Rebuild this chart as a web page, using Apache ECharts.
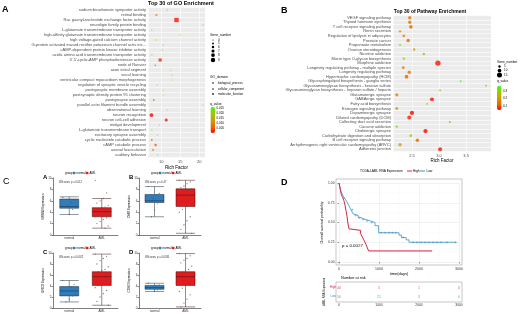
<!DOCTYPE html>
<html>
<head>
<meta charset="utf-8">
<script src="https://cdn.jsdelivr.net/npm/echarts@6.0.0/dist/echarts.min.js"></script>
<style>
  html, body { margin: 0; padding: 0; background: #fff; }
  #main { width: 520px; height: 314px; }
</style>
</head>
<body>
<div id="main"></div>
<script>
// ---- A: GO enrichment ----
const goTerms = ['sodium:bicarbonate symporter activity', 'retinal binding', 'Rac guanyl-nucleotide exchange factor activity',
  'neuroligin family protein binding', 'L-glutamate transmembrane transporter activity',
  'high-affinity glutamate transmembrane transporter activity', 'high voltage-gated calcium channel activity',
  'G-protein activated inward rectifier potassium channel activ etc...', 'cAMP-dependent protein kinase inhibitor activity',
  'acidic amino acid transmembrane transporter activity', "3',5'-cyclic-AMP phosphodiesterase activity", 'node of Ranvier',
  'axon initial segment', 'vocal learning', 'ventricular compact myocardium morphogenesis',
  'regulation of synaptic vesicle recycling', 'postsynaptic membrane assembly', 'postsynaptic density protein 95 clustering',
  'postsynapse assembly', 'parallel actin filament bundle assembly', 'observational learning', 'neuron recognition',
  'neuron cell-cell adhesion', 'midgut development', 'L-glutamate transmembrane transport', 'excitatory synapse assembly',
  'cyclic nucleotide catabolic process', 'cAMP catabolic process', 'axonal fasciculation', 'auditory behavior'];
const goRich = [11.6, 8.7, 14.0, 21.0, 7.5, 15.0, 8.7, 10.5, 10.2, 7.5, 9.7, 8.4, 12.5, 12.8, 12.8,
  8.9, 10.5, 10.5, 8.0, 21.0, 11.6, 7.4, 11.3, 9.5, 7.5, 9.0, 7.5, 8.5, 7.8, 9.0];
const goGenes = [4, 5, 9, 4, 4, 4, 4, 4, 4, 4, 7, 5, 4, 4, 4, 4, 4, 4, 5, 4, 4, 8, 7, 4, 4, 4, 5, 6, 5, 4];
const goQ = [0.022, 0.012, 0.004, 0.024, 0.023, 0.022, 0.022, 0.021, 0.022, 0.023, 0.005, 0.011, 0.021, 0.022, 0.022,
  0.021, 0.022, 0.021, 0.010, 0.024, 0.022, 0.003, 0.004, 0.022, 0.023, 0.021, 0.009, 0.008, 0.010, 0.022];
const goDomain = ['MF', 'MF', 'MF', 'MF', 'MF', 'MF', 'MF', 'MF', 'MF', 'MF', 'MF', 'CC', 'CC',
  'BP', 'BP', 'BP', 'BP', 'BP', 'BP', 'BP', 'BP', 'BP', 'BP', 'BP', 'BP', 'BP', 'BP', 'BP', 'BP', 'BP'];
const goSizeLegend = [4, 5, 6, 7, 8, 9];
const goQTicks = [0.025, 0.020, 0.015, 0.010, 0.005];

// ---- B: pathway enrichment ----
const pwTerms = ['VEGF signaling pathway', 'Thyroid hormone synthesis', 'T cell receptor signaling pathway', 'Renin secretion',
  'Regulation of lipolysis in adipocytes', 'Prostate cancer', 'Propanoate metabolism', 'Ovarian steroidogenesis',
  'Nicotine addiction', 'Mucin type O-glycan biosynthesis', 'Morphine addiction', 'Longevity regulating pathway - multiple species',
  'Longevity regulating pathway', 'Hypertrophic cardiomyopathy (HCM)', 'Glycosphingolipid biosynthesis - ganglio series',
  'Glycosaminoglycan biosynthesis - keratan sulfate', 'Glycosaminoglycan biosynthesis - heparan sulfate / heparin',
  'Glutamatergic synapse', 'GABAergic synapse', 'Fatty acid biosynthesis', 'Estrogen signaling pathway', 'Dopaminergic synapse',
  'Dilated cardiomyopathy (DCM)', 'Collecting duct acid secretion', 'Cocaine addiction', 'Cholinergic synapse',
  'Carbohydrate digestion and absorption', 'B cell receptor signaling pathway',
  'Arrhythmogenic right ventricular cardiomyopathy (ARVC)', 'Adherens junction'];
const pwRich = [2.46, 2.46, 2.48, 2.28, 2.35, 2.43, 2.28, 2.54, 2.72, 2.35, 2.98, 2.34, 2.45, 2.40, 3.40,
  3.87, 3.02, 2.22, 2.87, 2.78, 2.22, 2.50, 2.45, 3.20, 2.22, 2.75, 2.48, 2.60, 2.28, 3.02];
const pwGenes = [9, 9, 10, 5, 6, 9, 4, 5, 5, 5, 16, 7, 9, 10, 3, 3, 4, 8, 11, 3, 7, 12, 11, 4, 5, 12, 6, 9, 8, 11];
const pwQ = [0.15, 0.15, 0.13, 0.20, 0.18, 0.12, 0.32, 0.20, 0.27, 0.30, 0.06, 0.17, 0.15, 0.12, 0.35,
  0.33, 0.30, 0.17, 0.06, 0.30, 0.22, 0.05, 0.07, 0.28, 0.32, 0.05, 0.28, 0.12, 0.20, 0.06];
const pwSizeLegend = [5, 10, 15];
const pwQTicks = [0.3, 0.2, 0.1];

// ---- C: expression boxplots [min, Q1, median, Q3, max] ----
const groups = ['normal', 'AML'];
const boxGenes = ['NRXN3 Expression', 'DMD Expression', 'GRID2 Expression', 'CDH2 Expression'];
const boxPvals = ['Wilcoxon, p = 0.012', 'Wilcoxon, p = 0.47', 'Wilcoxon, p = 0.0021', 'Wilcoxon, p = 0.0035'];
const boxNormal = [[3.6, 4.7, 5.0, 6.3, 6.7], [3.2, 5.7, 6.0, 7.1, 8.5], [1.1, 2.2, 3.1, 3.9, 5.0], [3.0, 3.4, 3.7, 4.1, 4.5]];
const boxAML = [[1.2, 3.2, 4.1, 4.8, 6.4], [0.3, 5.0, 7.0, 8.1, 9.6], [0.5, 4.1, 5.7, 6.6, 9.8], [0.2, 4.1, 5.7, 6.6, 9.9]];
const ptsNormal = [
  [6.6, 6.2, 5.8, 5.3, 5.0, 4.8, 4.5, 3.6],
  [8.5, 7.3, 7.0, 6.4, 6.0, 5.8, 5.6, 4.4, 3.2],
  [5.0, 4.3, 3.8, 3.3, 3.0, 2.6, 2.2, 1.6, 1.1],
  [4.5, 4.2, 4.0, 3.8, 3.7, 3.5, 3.3, 3.0]];
const ptsAML = [
  [9.6, 7.4, 6.4, 6.0, 5.6, 5.2, 4.9, 4.8, 4.6, 4.5, 4.3, 4.2, 4.1, 4.0, 3.9, 3.7, 3.5, 3.3, 3.2, 3.0, 2.7, 2.4, 2.0, 1.6, 1.2],
  [9.6, 9.3, 9.0, 8.6, 8.3, 8.1, 7.8, 7.5, 7.2, 7.0, 6.8, 6.5, 6.2, 5.8, 5.5, 5.1, 5.0, 4.5, 4.0, 3.2, 2.5, 1.8, 1.0, 0.3],
  [9.8, 9.4, 9.0, 8.6, 8.0, 7.5, 7.0, 6.8, 6.6, 6.3, 6.0, 5.8, 5.6, 5.3, 5.0, 4.7, 4.4, 4.1, 3.7, 3.2, 2.6, 2.0, 1.2, 0.5],
  [9.9, 9.5, 9.0, 8.7, 8.2, 7.6, 7.0, 6.8, 6.6, 6.2, 5.9, 5.7, 5.5, 5.2, 4.8, 4.5, 4.1, 3.6, 3.0, 2.4, 1.6, 0.9, 0.2]];

// ---- D: Kaplan-Meier ----
const highT = [0, 20, 40, 60, 90, 120, 150, 175, 200, 215, 230, 250, 280, 540, 580, 620, 660, 700, 740, 2330];
const highS = [1.0, 0.95, 0.90, 0.85, 0.82, 0.78, 0.72, 0.65, 0.58, 0.52, 0.47, 0.42, 0.40, 0.36, 0.32, 0.28, 0.24, 0.19, 0.14, 0.14];
const lowT = [0, 30, 60, 100, 150, 200, 250, 300, 350, 400, 480, 560, 650, 780, 900, 990, 1500, 1560, 1680, 1750, 2920];
const lowS = [1.0, 0.93, 0.88, 0.84, 0.80, 0.76, 0.71, 0.66, 0.61, 0.59, 0.56, 0.54, 0.52, 0.50, 0.46, 0.37, 0.34, 0.31, 0.28, 0.25, 0.25];
const lowCensT = [120, 330, 420, 520, 600, 700, 820, 1050, 1150, 1250, 1330, 1420, 1600, 1850, 1950, 2050, 2150, 2250, 2350, 2450, 2550, 2700, 2920];
const lowCensS = [0.80, 0.66, 0.59, 0.56, 0.54, 0.52, 0.50, 0.37, 0.37, 0.37, 0.37, 0.37, 0.31, 0.25, 0.25, 0.25, 0.25, 0.25, 0.25, 0.25, 0.25, 0.25, 0.25];
const riskT = [0, 1000, 2000, 3000];
const riskHigh = [40, 5, 1, 0];
const riskLow = [56, 21, 3, 0];

const FONT = '"Liberation Sans", Arial, sans-serif';
const RED = '#E41A1C', BLUE = '#2F7DBD';
const goColors = ['#FF0000', '#F25C00', '#DD8A00', '#BDB000', '#8DD400', '#33FF00'];
const shapeOf = { BP: 'circle', CC: 'triangle', MF: 'rect' };
const goSize = g => 0.5 + (g - 3) * 0.65;
const pwSize = g => 1 + g * 0.27;

function T(x, y, text, size, o = {}) {
  return {
    type: 'text', x, y, rotation: o.rot || 0, silent: true,
    style: { text, fontSize: size, fontFamily: FONT, fontWeight: o.bold ? 'bold' : 'normal',
      fill: o.color || '#000', align: o.align || 'left', verticalAlign: 'middle' }
  };
}

const grids = [], xAxes = [], yAxes = [], series = [], graphics = [];

// A
grids.push({ left: 148, top: 7.5, width: 57, height: 150, show: true, backgroundColor: '#EBEBEB', borderWidth: 0 });
xAxes.push({ type: 'value', gridIndex: 0, min: 6.5, max: 21.5, splitNumber: 3,
  axisLine: { show: false }, axisTick: { length: 1.5, lineStyle: { color: '#333', width: 0.5 } },
  axisLabel: { fontSize: 4, margin: 2, color: '#4D4D4D', showMinLabel: false, showMaxLabel: false },
  splitLine: { lineStyle: { color: '#fff', width: 0.6 } },
  name: 'Rich Factor', nameLocation: 'middle', nameGap: 8, nameTextStyle: { fontSize: 4.5, color: '#000', fontFamily: FONT } });
yAxes.push({ type: 'category', gridIndex: 0, data: goTerms, inverse: true,
  axisLine: { show: false }, axisTick: { length: 1.5, alignWithLabel: true, lineStyle: { color: '#333', width: 0.5 } },
  axisLabel: { fontSize: 4, margin: 2, color: '#4D4D4D', interval: 0, fontFamily: FONT },
  splitLine: { show: true, lineStyle: { color: '#fff', width: 0.6 } } });
series.push({ type: 'scatter', xAxisIndex: 0, yAxisIndex: 0,
  data: goTerms.map((t, i) => [goRich[i], t, goQ[i], goGenes[i], goDomain[i]]),
  symbolSize: v => goSize(v[3]), symbol: v => shapeOf[v[4]] });

// B
grids.push({ left: 393, top: 15.5, width: 98, height: 136, show: true, backgroundColor: '#EBEBEB', borderWidth: 0 });
xAxes.push({ type: 'value', gridIndex: 1, min: 2.15, max: 3.96, splitNumber: 4,
  axisLine: { show: false }, axisTick: { length: 1.5, lineStyle: { color: '#333', width: 0.5 } },
  axisLabel: { fontSize: 4, margin: 2, color: '#4D4D4D', showMinLabel: false, showMaxLabel: false, formatter: v => v.toFixed(1) },
  splitLine: { lineStyle: { color: '#fff', width: 0.6 } },
  name: 'Rich Factor', nameLocation: 'middle', nameGap: 7, nameTextStyle: { fontSize: 4.5, color: '#000', fontFamily: FONT } });
yAxes.push({ type: 'category', gridIndex: 1, data: pwTerms, inverse: true,
  axisLine: { show: false }, axisTick: { length: 1.5, alignWithLabel: true, lineStyle: { color: '#333', width: 0.5 } },
  axisLabel: { fontSize: 4, margin: 2, color: '#4D4D4D', interval: 0, fontFamily: FONT },
  splitLine: { show: true, lineStyle: { color: '#fff', width: 0.6 } } });
series.push({ type: 'scatter', xAxisIndex: 1, yAxisIndex: 1,
  data: pwTerms.map((t, i) => [pwRich[i], t, pwQ[i], pwGenes[i]]),
  symbolSize: v => pwSize(v[3]) });

// C boxplots
const boxPanels = [
  { left: 53, top: 178, w: 65, h: 57, lx: 43, ly: 177, letter: 'A' },
  { left: 139, top: 178, w: 62, h: 57, lx: 129, ly: 177, letter: 'B' },
  { left: 53, top: 253, w: 65, h: 55, lx: 43, ly: 252, letter: 'C' },
  { left: 139, top: 253, w: 62, h: 55, lx: 129, ly: 252, letter: 'D' }];
boxPanels.forEach((p, k) => {
  const g = grids.length;
  grids.push({ left: p.left, top: p.top, width: p.w, height: p.h });
  const xc = xAxes.length;
  xAxes.push({ type: 'category', gridIndex: g, data: groups,
    axisLine: { lineStyle: { color: '#000', width: 0.5 } }, axisTick: { length: 1.5, alignWithLabel: true, lineStyle: { width: 0.5 } },
    axisLabel: { fontSize: 3.2, margin: 2, color: '#333', fontFamily: FONT } });
  xAxes.push({ type: 'value', gridIndex: g, min: 0.5, max: 2.5, show: false });
  const y = yAxes.length;
  yAxes.push({ type: 'value', gridIndex: g, min: 0, max: 10, interval: 2,
    axisLine: { show: true, lineStyle: { color: '#000', width: 0.5 } }, axisTick: { show: true, length: 1.5, lineStyle: { width: 0.5 } },
    axisLabel: { fontSize: 3, margin: 1.5, color: '#333' }, splitLine: { show: false },
    name: boxGenes[k], nameLocation: 'middle', nameGap: 7, nameRotate: 90, nameTextStyle: { fontSize: 3, color: '#000', fontFamily: FONT } });
  series.push({ type: 'boxplot', xAxisIndex: xc, yAxisIndex: y, boxWidth: [19, 19],
    data: [
      { value: boxNormal[k], itemStyle: { color: BLUE, borderColor: '#1D2D3D', borderWidth: 0.5 } },
      { value: boxAML[k], itemStyle: { color: RED, borderColor: '#3A1010', borderWidth: 0.5 } }] });
  const jit = (vals, c) => vals.map((v, i) => [c + (((i * 7) % 9) - 4) * 0.05, v]);
  series.push({ type: 'scatter', xAxisIndex: xc + 1, yAxisIndex: y, symbolSize: 1.3,
    itemStyle: { color: '#555', opacity: 0.75 }, data: jit(ptsNormal[k], 1).concat(jit(ptsAML[k], 2)), z: 5 });
  graphics.push(T(p.lx, p.ly, p.letter, 6, { bold: true }));
  const gx = p.left + 12, gy = p.top - 5;
  graphics.push(T(gx, gy, 'group', 3));
  graphics.push({ type: 'rect', shape: { x: gx + 8, y: gy - 1.2, width: 2.4, height: 2.4 }, style: { fill: BLUE }, silent: true });
  graphics.push(T(gx + 11.5, gy, 'normal', 3));
  graphics.push({ type: 'rect', shape: { x: gx + 21, y: gy - 1.2, width: 2.4, height: 2.4 }, style: { fill: RED }, silent: true });
  graphics.push(T(gx + 24.5, gy, 'AML', 3));
  graphics.push(T(p.left + 6, p.top + 4, boxPvals[k], 2.6, { color: '#333' }));
});

// D survival
const gS = grids.length;
grids.push({ left: 339, top: 183, width: 120, height: 79 });
const xS = xAxes.length;
xAxes.push({ type: 'value', gridIndex: gS, min: 0, max: 3000, interval: 1000,
  axisLine: { show: false }, axisTick: { length: 1.5, lineStyle: { color: '#333', width: 0.5 } },
  axisLabel: { fontSize: 3.5, margin: 5, color: '#333', formatter: v => String(v) },
  splitLine: { lineStyle: { color: '#E5E5E5', width: 0.5 } },
  minorTick: { show: false, splitNumber: 2 }, minorSplitLine: { show: true, lineStyle: { color: '#F2F2F2', width: 0.4 } },
  name: 'time(days)', nameLocation: 'middle', nameGap: 10, nameTextStyle: { fontSize: 4, color: '#000', fontFamily: FONT } });
const yS = yAxes.length;
yAxes.push({ type: 'value', gridIndex: gS, min: 0, max: 1, interval: 0.25,
  axisLine: { show: false }, axisTick: { show: true, length: 1.5, lineStyle: { color: '#333', width: 0.5 } },
  axisLabel: { fontSize: 3.3, margin: 4.5, color: '#333', formatter: v => v.toFixed(2) },
  splitLine: { lineStyle: { color: '#E5E5E5', width: 0.5 } },
  minorTick: { show: false, splitNumber: 2 }, minorSplitLine: { show: true, lineStyle: { color: '#F2F2F2', width: 0.4 } },
  name: 'Overall survival probability', nameLocation: 'middle', nameGap: 14, nameRotate: 90,
  nameTextStyle: { fontSize: 3.6, color: '#000', fontFamily: FONT } });
series.push({ type: 'line', name: 'High', step: 'end', xAxisIndex: xS, yAxisIndex: yS, showSymbol: false, symbol: 'none',
  data: highT.map((t, i) => [t, highS[i]]), lineStyle: { color: '#D62246', width: 1 }, z: 4 });
series.push({ type: 'line', name: 'Low', step: 'end', xAxisIndex: xS, yAxisIndex: yS, showSymbol: false, symbol: 'none',
  data: lowT.map((t, i) => [t, lowS[i]]), lineStyle: { color: '#3A94C4', width: 0.8 }, z: 3 });
series.push({ type: 'scatter', xAxisIndex: xS, yAxisIndex: yS, symbolSize: 2.6,
  symbol: 'path://M-0.2,-1H0.2V-0.2H1V0.2H0.2V1H-0.2V0.2H-1V-0.2H-0.2Z',
  itemStyle: { color: '#3A94C4' }, data: lowCensT.map((t, i) => [t, lowCensS[i]]), z: 4 });

// risk table
const gR = grids.length;
grids.push({ left: 339, top: 283, width: 120, height: 18 });
const xR = xAxes.length;
xAxes.push({ type: 'value', gridIndex: gR, min: 0, max: 3000, interval: 1000,
  axisLine: { show: false }, axisTick: { length: 1.5, lineStyle: { color: '#333', width: 0.5 } },
  axisLabel: { fontSize: 3.3, margin: 3, color: '#333', formatter: v => String(v) }, splitLine: { show: false } });
const yR = yAxes.length;
yAxes.push({ type: 'category', gridIndex: gR, data: ['High', 'Low'], inverse: true,
  axisLine: { show: false }, axisTick: { length: 1.5, alignWithLabel: true, lineStyle: { color: '#333', width: 0.5 } },
  axisLabel: { fontSize: 3, margin: 3, formatter: v => v === 'High' ? '{h|' + v + '}' : '{l|' + v + '}',
    rich: { h: { fontSize: 3, color: '#D62246' }, l: { fontSize: 3, color: '#3A94C4' } } },
  name: 'LAML RNA Expression', nameLocation: 'middle', nameGap: 12, nameRotate: 90,
  nameTextStyle: { fontSize: 2.8, color: '#000', fontFamily: FONT } });
series.push({ type: 'scatter', xAxisIndex: xR, yAxisIndex: yR, symbolSize: 0,
  data: riskT.map((t, i) => [t, 'High', riskHigh[i]]),
  label: { show: true, position: 'inside', formatter: p => p.value[2], fontSize: 3.6, color: '#D62246' } });
series.push({ type: 'scatter', xAxisIndex: xR, yAxisIndex: yR, symbolSize: 0,
  data: riskT.map((t, i) => [t, 'Low', riskLow[i]]),
  label: { show: true, position: 'inside', formatter: p => p.value[2], fontSize: 3.6, color: '#3A94C4' } });

// titles, letters, legends
graphics.push(T(2, 10, 'A', 9, { bold: true }));
graphics.push(T(281, 11, 'B', 9, { bold: true }));
graphics.push(T(3, 182, 'C', 9));
graphics.push(T(281, 183, 'D', 9, { bold: true }));
graphics.push(T(181, 3.6, 'Top 30 of GO Enrichment', 5.5, { bold: true, align: 'center' }));
graphics.push(T(430, 11.8, 'Top 30 of Pathway Enrichment', 5, { bold: true, align: 'center' }));

// GO size legend
graphics.push(T(210, 35, 'Gene_number', 3.3));
const goLegY = [40, 43.5, 47, 51, 55, 60];
goSizeLegend.forEach((g, i) => {
  graphics.push({ type: 'circle', shape: { cx: 213, cy: goLegY[i], r: goSize(g) / 2 }, style: { fill: '#000' }, silent: true });
  graphics.push(T(218, goLegY[i], String(g), 3));
});
graphics.push(T(210, 77, 'GO_domain', 3.3));
graphics.push({ type: 'circle', shape: { cx: 213, cy: 83, r: 0.8 }, style: { fill: '#000' }, silent: true });
graphics.push({ type: 'polygon', shape: { points: [[213, 87.8], [214, 89.6], [212, 89.6]] }, style: { fill: '#000' }, silent: true });
graphics.push({ type: 'rect', shape: { x: 212.2, y: 93.2, width: 1.6, height: 1.6 }, style: { fill: '#000' }, silent: true });
graphics.push(T(218, 83, 'biological_process', 3));
graphics.push(T(218, 88.8, 'cellular_component', 3));
graphics.push(T(218, 94, 'molecular_function', 3));
graphics.push(T(210, 104, 'q_value', 3.3));
const goQPix = [108.3, 113.3, 118.3, 123.3, 128.3];
goQTicks.forEach((q, i) => graphics.push(T(216.5, goQPix[i], q.toFixed(3), 3)));

// pathway legend
graphics.push(T(497, 62, 'Gene_number', 3.2));
const pwLegY = [66.5, 70.5, 75];
pwSizeLegend.forEach((g, i) => {
  graphics.push({ type: 'circle', shape: { cx: 499.5, cy: pwLegY[i], r: pwSize(g) / 2 }, style: { fill: '#000' }, silent: true });
  graphics.push(T(504, pwLegY[i], String(g), 3));
});
graphics.push(T(497, 81.5, 'q_value', 3.2));
const pwQPix = [91, 98.5, 106];
pwQTicks.forEach((q, i) => graphics.push(T(503, pwQPix[i], q.toFixed(1), 3)));

// survival decorations
graphics.push({ type: 'rect', shape: { x: 336, y: 179, width: 126, height: 86 }, style: { fill: 'none', stroke: '#8C8C8C', lineWidth: 0.5 }, silent: true });
graphics.push({ type: 'rect', shape: { x: 336, y: 282, width: 126, height: 20 }, style: { fill: 'none', stroke: '#8C8C8C', lineWidth: 0.5 }, silent: true });
graphics.push(T(342, 246, 'p = 0.0027', 4.4));
graphics.push(T(341, 278, 'Number at risk', 3.8));
graphics.push(T(360, 171, 'TCGA-LAML RNA Expression', 3.2));
graphics.push({ type: 'line', shape: { x1: 407, y1: 171, x2: 412, y2: 171 }, style: { stroke: '#D62246', lineWidth: 1 }, silent: true });
graphics.push(T(413, 171, 'High', 3.2));
graphics.push({ type: 'line', shape: { x1: 420, y1: 171, x2: 425, y2: 171 }, style: { stroke: '#3A94C4', lineWidth: 1 }, silent: true });
graphics.push(T(426.5, 171, 'Low', 3.2));

const chart = echarts.init(document.getElementById('main'), null, { renderer: 'canvas' });
chart.setOption({
  animation: false,
  textStyle: { fontFamily: FONT },
  grid: grids,
  xAxis: xAxes,
  yAxis: yAxes,
  visualMap: [
    { type: 'continuous', seriesIndex: 0, dimension: 2, min: 0.003, max: 0.026, left: 210.5, top: 107,
      itemWidth: 4.5, itemHeight: 26, padding: 0, calculable: false, text: null, hoverLink: false,
      inRange: { color: goColors } },
    { type: 'continuous', seriesIndex: 1, dimension: 2, min: 0.047, max: 0.37, left: 497, top: 86,
      itemWidth: 4.5, itemHeight: 24, padding: 0, calculable: false, text: null, hoverLink: false,
      inRange: { color: goColors } }],
  series: series,
  graphic: graphics
});
</script>
</body>
</html>
